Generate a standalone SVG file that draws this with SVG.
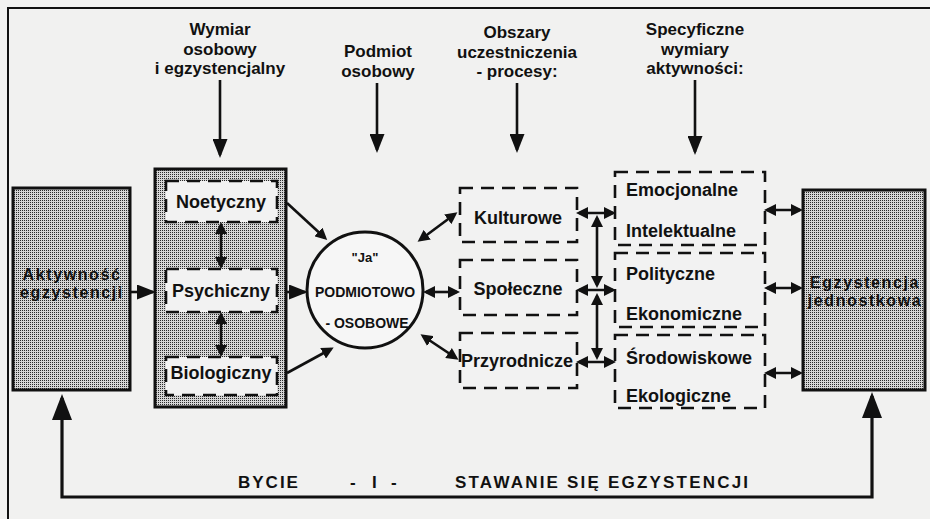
<svg xmlns="http://www.w3.org/2000/svg" width="930" height="519" viewBox="0 0 930 519">
<style>
  text{font-family:"Liberation Sans",Arial,sans-serif;font-weight:bold;fill:#111}
  .hd{font-size:17px;text-anchor:middle}
  .nd{font-size:18px;text-anchor:middle}
  .bx{font-size:16px;text-anchor:middle;letter-spacing:1.6px}
  .ac{font-size:18px}
  .dash{fill:#f2f2f2;stroke:#111;stroke-width:2.6;stroke-dasharray:13 8}
  .solid{fill:url(#stip);stroke:#111;stroke-width:3}
  .c{fill:none;stroke:#111;stroke-width:2.6}
  .s{marker-end:url(#ah)}
  .d{marker-start:url(#ah);marker-end:url(#ah)}
  .t{marker-end:url(#big)}
  .cap{font-size:17px}
</style>
<defs>
  <pattern id="stip" width="2" height="2" patternUnits="userSpaceOnUse">
    <rect width="2" height="2" fill="#d6d6d6"/>
    <rect width="1" height="1" fill="#2a2a2a"/>
  </pattern>
  <marker id="ah" viewBox="0 0 12 12" refX="9" refY="6" markerWidth="12" markerHeight="12" markerUnits="userSpaceOnUse" orient="auto-start-reverse">
    <path d="M0,0 L12,6 L0,12 z" fill="#111"/>
  </marker>
  <marker id="big" viewBox="0 0 19 15" refX="16" refY="7.5" markerWidth="19" markerHeight="15" markerUnits="userSpaceOnUse" orient="auto-start-reverse">
    <path d="M0,0 L19,7.5 L0,15 z" fill="#111"/>
  </marker>
  <marker id="huge" viewBox="0 0 26 20" refX="22" refY="10" markerWidth="26" markerHeight="20" markerUnits="userSpaceOnUse" orient="auto-start-reverse">
    <path d="M0,0 L26,10 L0,20 z" fill="#111"/>
  </marker>
</defs>
<rect width="930" height="519" fill="#f1f1f0"/>
<path d="M8,519 L8,8 L930,8" fill="none" stroke="#111" stroke-width="2"/>

<g id="headings">
  <text class="hd" x="220" y="35">Wymiar</text>
  <text class="hd" x="220" y="54.5">osobowy</text>
  <text class="hd" x="220" y="74">i egzystencjalny</text>
  <text class="hd" x="378" y="57">Podmiot</text>
  <text class="hd" x="378" y="76.5">osobowy</text>
  <text class="hd" x="517" y="38">Obszary</text>
  <text class="hd" x="517" y="57.5">uczestniczenia</text>
  <text class="hd" x="517" y="77">- procesy:</text>
  <text class="hd" x="695" y="35">Specyficzne</text>
  <text class="hd" x="695" y="54.5">wymiary</text>
  <text class="hd" x="695" y="74">aktywności:</text>
</g>

<g id="aktywnosc">
  <rect class="solid" x="13" y="188" width="117" height="202"/>
  <text class="bx" x="72" y="280">Aktywność</text>
  <text class="bx" x="72" y="298">egzystencji</text>
</g>

<g id="wymiar">
  <rect class="solid" x="155" y="169" width="131" height="238" stroke-width="2.6"/>
  <g id="noetyczny">
    <rect class="dash" x="166" y="181" width="111" height="41"/>
    <text class="nd" x="221" y="208">Noetyczny</text>
  </g>
  <g id="psychiczny">
    <rect class="dash" x="166" y="269" width="111" height="43"/>
    <text class="nd" x="221" y="297">Psychiczny</text>
  </g>
  <g id="biologiczny">
    <rect class="dash" x="166" y="357" width="111" height="38"/>
    <text class="nd" x="221" y="379">Biologiczny</text>
  </g>
</g>

<g id="ja">
  <circle cx="365" cy="290" r="58" fill="#f6f6f6" stroke="#111" stroke-width="3"/>
  <text x="365" y="262" style="font-size:13px;text-anchor:middle">"Ja"</text>
  <text x="365" y="297" style="font-size:14px;text-anchor:middle">PODMIOTOWO</text>
  <text x="367" y="328" style="font-size:14px;text-anchor:middle">- OSOBOWE</text>
</g>

<g id="kulturowe">
  <rect class="dash" x="460" y="188" width="117" height="54" fill="#f1f1f0"/>
  <text class="nd" x="518" y="224">Kulturowe</text>
</g>
<g id="spoleczne">
  <rect class="dash" x="460" y="260" width="117" height="55"/>
  <text class="nd" x="518" y="295">Społeczne</text>
</g>
<g id="przyrodnicze">
  <rect class="dash" x="460" y="333" width="117" height="55"/>
  <text class="nd" x="517" y="367">Przyrodnicze</text>
</g>

<g id="emocjonalne">
  <rect class="dash" x="615" y="172" width="150" height="73"/>
  <text class="ac" x="626" y="196">Emocjonalne</text>
  <text class="ac" x="626" y="237">Intelektualne</text>
</g>
<g id="polityczne">
  <rect class="dash" x="615" y="253" width="150" height="74"/>
  <text class="ac" x="626" y="280">Polityczne</text>
  <text class="ac" x="626" y="320">Ekonomiczne</text>
</g>
<g id="srodowiskowe">
  <rect class="dash" x="615" y="335" width="150" height="73"/>
  <text class="ac" x="626" y="364">Środowiskowe</text>
  <text class="ac" x="626" y="402">Ekologiczne</text>
</g>

<g id="egzystencja">
  <rect class="solid" x="803" y="190" width="122" height="200"/>
  <text class="bx" x="865" y="288">Egzystencja</text>
  <text class="bx" x="865" y="306">jednostkowa</text>
</g>

<g id="connectors">
  <path class="c t" d="M220,80 L220,155"/>
  <path class="c t" d="M377,83 L377,150"/>
  <path class="c t" d="M517,83 L517,150"/>
  <path class="c t" d="M695,80 L695,152"/>
  <path class="c" d="M130,292 L153,292" style="marker-end:url(#big)"/>
  <path class="c d" d="M221,225 L221,266"/>
  <path class="c d" d="M221,315 L221,354"/>
  <path class="c s" d="M287,203 L325,238"/>
  <path class="c" d="M287,292 L305,292" style="marker-end:url(#big)"/>
  <path class="c s" d="M287,373 L331,349"/>
  <path class="c d" d="M420,240 L455,214"/>
  <path class="c d" d="M426,292 L457,292"/>
  <path class="c d" d="M423,336 L456,358"/>
  <path class="c d" d="M579,213 L613,213"/>
  <path class="c d" d="M579,290 L613,290"/>
  <path class="c d" d="M579,362 L613,362"/>
  <path class="c d" d="M597,218 L597,285"/>
  <path class="c d" d="M597,296 L597,357"/>
  <path class="c d" d="M767,210 L800,210"/>
  <path class="c d" d="M767,288 L800,288"/>
  <path class="c d" d="M767,373 L800,373"/>
  <path d="M62,398 L62,497 L872,497 L872,396" fill="none" stroke="#111" stroke-width="3.2" style="marker-start:url(#huge);marker-end:url(#huge)"/>
</g>

<g id="caption">
  <text class="cap" x="238" y="488" style="letter-spacing:2px">BYCIE</text>
  <text class="cap" y="488"><tspan x="350">-</tspan><tspan x="372">I</tspan><tspan x="391">-</tspan></text>
  <text class="cap" x="455" y="488" style="letter-spacing:2.2px">STAWANIE  SIĘ  EGZYSTENCJI</text>
</g>
</svg>
